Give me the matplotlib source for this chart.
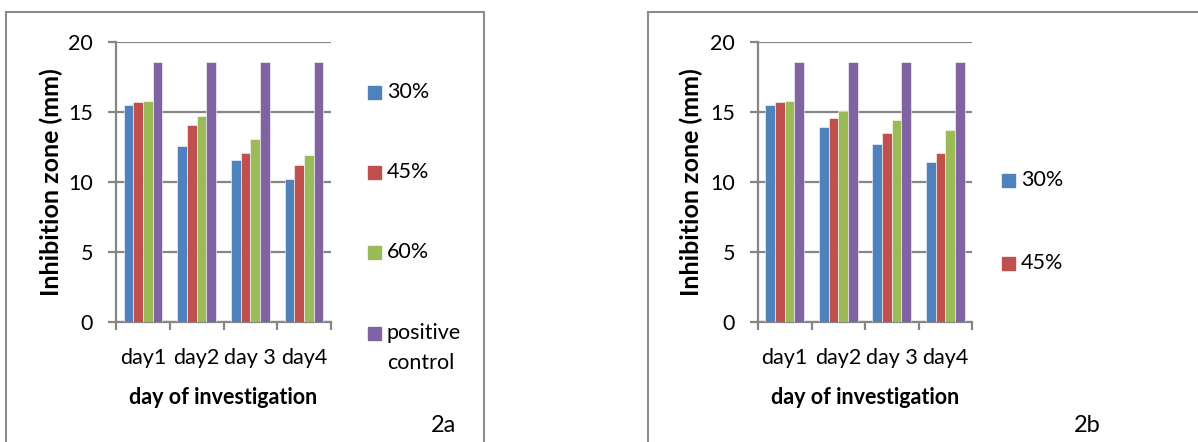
import matplotlib
matplotlib.use("Agg")
import matplotlib.pyplot as plt
from matplotlib.patches import Rectangle
import numpy as np

plt.rcParams['font.family'] = ['Lato', 'DejaVu Sans']

days = ["day1", "day2", "day 3", "day4"]
series = ["30%", "45%", "60%", "positive\ncontrol"]
colors = ["#4F81BD", "#C0504D", "#9BBB59", "#8064A2"]

a_30 = [15.5, 12.6, 11.55, 10.2]
a_45 = [15.7, 14.1, 12.1, 11.2]
a_60 = [15.8, 14.7, 13.1, 11.9]
a_pc = [18.6, 18.6, 18.6, 18.6]

b_30 = [15.5, 13.9, 12.7, 11.4]
b_45 = [15.7, 14.6, 13.5, 12.1]
b_60 = [15.8, 15.1, 14.4, 13.7]
b_pc = [18.6, 18.6, 18.6, 18.6]

W, H = 1198, 442
fig = plt.figure(figsize=(W/100, H/100), dpi=100)
fig.patch.set_facecolor('white')

def fx(px): return px / W
def fy(py): return 1 - py / H

GRAY = "#868686"
FS = 15.5

# panel borders
for (x0, x1) in [(6, 484), (648, 1200)]:
    fig.add_artist(Rectangle((fx(x0), fy(445)), fx(x1) - fx(x0), fy(12) - fy(445),
                             transform=fig.transFigure, fill=False, edgecolor="#8c8c8c", lw=1.5))

def panel(left, right, data, ylab_x, tag, tag_x):
    ax = fig.add_axes([fx(left), fy(322), fx(right) - fx(left), fy(42) - fy(322)])
    n = len(data)
    bw = 0.18
    x = np.arange(len(days))
    for i, vals in enumerate(data):
        ax.bar(x + (i - (n - 1) / 2) * bw, vals, width=bw, color=colors[i],
               edgecolor="white", linewidth=0.4, zorder=3)
    ax.set_xlim(-0.5, len(days) - 0.5)
    ax.set_ylim(0, 20)
    ax.set_yticks([0, 5, 10, 15, 20])
    ax.grid(axis='y', color=GRAY, lw=1.6, zorder=0)
    for s in ['top', 'right']:
        ax.spines[s].set_visible(False)
    for s in ['left', 'bottom']:
        ax.spines[s].set_color(GRAY)
        ax.spines[s].set_linewidth(1.6)
    ax.set_xticks(np.arange(len(days) + 1) - 0.5)
    ax.set_xticklabels([])
    ax.set_xticks(x, minor=True)
    ax.set_xticklabels(days, minor=True, fontsize=FS)
    ax.tick_params(axis='x', which='major', length=6, width=1.6, color=GRAY)
    ax.tick_params(axis='x', which='minor', length=0, pad=19)
    ax.tick_params(axis='y', length=5.5, width=1.6, color=GRAY, labelsize=FS, pad=11)
    ax.set_ylabel("Inhibition zone (mm)", fontsize=18, fontweight='bold')
    ax.yaxis.set_label_coords(ylab_x, 0.5)
    ax.set_xlabel("day of investigation", fontsize=15.5, fontweight='bold')
    ax.xaxis.set_label_coords(0.5, -0.232)
    fig.text(fx(tag_x), fy(425), tag, fontsize=17, ha='center', va='center')
    return ax

panel(116, 331, [a_30, a_45, a_60, a_pc], -0.245, "2a", 443)
panel(758, 972, [b_30, b_45, b_60, b_pc], -0.255, "2b", 1087)

# legends
def legend(sq_x, ys, labels, cols):
    for y, lab, c in zip(ys, labels, cols):
        fig.add_artist(Rectangle((fx(sq_x), fy(y + 6.5)), fx(13), fy(0) - fy(13),
                                 transform=fig.transFigure, color=c))
        fig.text(fx(sq_x + 19), fy(y - 10), lab, fontsize=FS, ha='left', va='top',
                 linespacing=1.6)

legend(368, [92, 172, 252, 333], series, colors)
legend(1002, [180, 263], series[:2], colors[:2])

fig.savefig("out.png", dpi=100)
